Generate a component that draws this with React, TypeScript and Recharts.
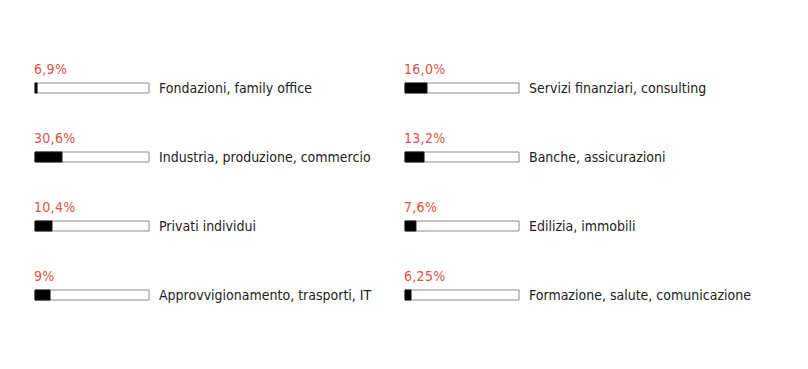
import { Bar, BarChart, LabelList, XAxis, YAxis } from "recharts";

// left column, top to bottom
const leftSectors = [
  "Fondazioni, family office",
  "Industria, produzione, commercio",
  "Privati individui",
  "Approvvigionamento, trasporti, IT",
];
const leftPercentLabels = ["6,9%", "30,6%", "10,4%", "9%"];
// filled share of the track as drawn (0-100)
const leftFill = [1.8, 23.7, 14.9, 13.2];

// right column, top to bottom
const rightSectors = [
  "Servizi finanziari, consulting",
  "Banche, assicurazioni",
  "Edilizia, immobili",
  "Formazione, salute, comunicazione",
];
const rightPercentLabels = ["16,0%", "13,2%", "7,6%", "6,25%"];
const rightFill = [19.3, 16.7, 9.6, 5.3];

const FONT = "'Liberation Sans Narrow', 'DejaVu Sans Condensed', sans-serif";
const RED = "#df5148";
const INK = "#222222";

function SectorTick({ x, y, payload }: any) {
  return (
    <text
      x={x}
      y={y}
      dy={5}
      textAnchor="start"
      fontFamily={FONT}
      fontSize={14}
      letterSpacing={0}
      fill={INK}
    >
      {payload.value}
    </text>
  );
}

function PercentLabel({ x, y, value }: any) {
  return (
    <text
      x={x - 1}
      y={y - 9}
      fontFamily={FONT}
      fontSize={14}
      letterSpacing={0.3}
      fill={RED}
    >
      {value}
    </text>
  );
}

function Column({
  sectors,
  labels,
  fill,
}: {
  sectors: string[];
  labels: string[];
  fill: number[];
}) {
  const data = sectors.map((name, i) => ({ name, fill: fill[i], label: labels[i] }));
  return (
    <BarChart
      width={370}
      height={340}
      data={data}
      layout="vertical"
      margin={{ top: 45, right: 0, bottom: 19, left: 27 }}
      style={{ overflow: "visible" }}
    >
      <XAxis type="number" domain={[0, 100]} hide />
      <YAxis
        type="category"
        dataKey="name"
        orientation="right"
        width={229}
        axisLine={false}
        tickLine={false}
        tickSize={0}
        tickMargin={10}
        tick={<SectorTick />}
        interval={0}
      />
      <Bar
        dataKey="fill"
        barSize={10}
        fill="#1e1e1e"
        stroke="#161616"
        strokeWidth={1}
        background={{ fill: "#ffffff", stroke: "#8c8c8c", strokeWidth: 1 }}
        isAnimationActive={false}
      >
        <LabelList dataKey="label" content={<PercentLabel />} />
      </Bar>
    </BarChart>
  );
}

export default function App() {
  return (
    <div style={{ display: "flex", width: 800, height: 361, background: "#fff" }}>
      <style>{".recharts-surface, .recharts-wrapper { overflow: visible !important; }"}</style>
      <Column sectors={leftSectors} labels={leftPercentLabels} fill={leftFill} />
      <Column sectors={rightSectors} labels={rightPercentLabels} fill={rightFill} />
    </div>
  );
}
